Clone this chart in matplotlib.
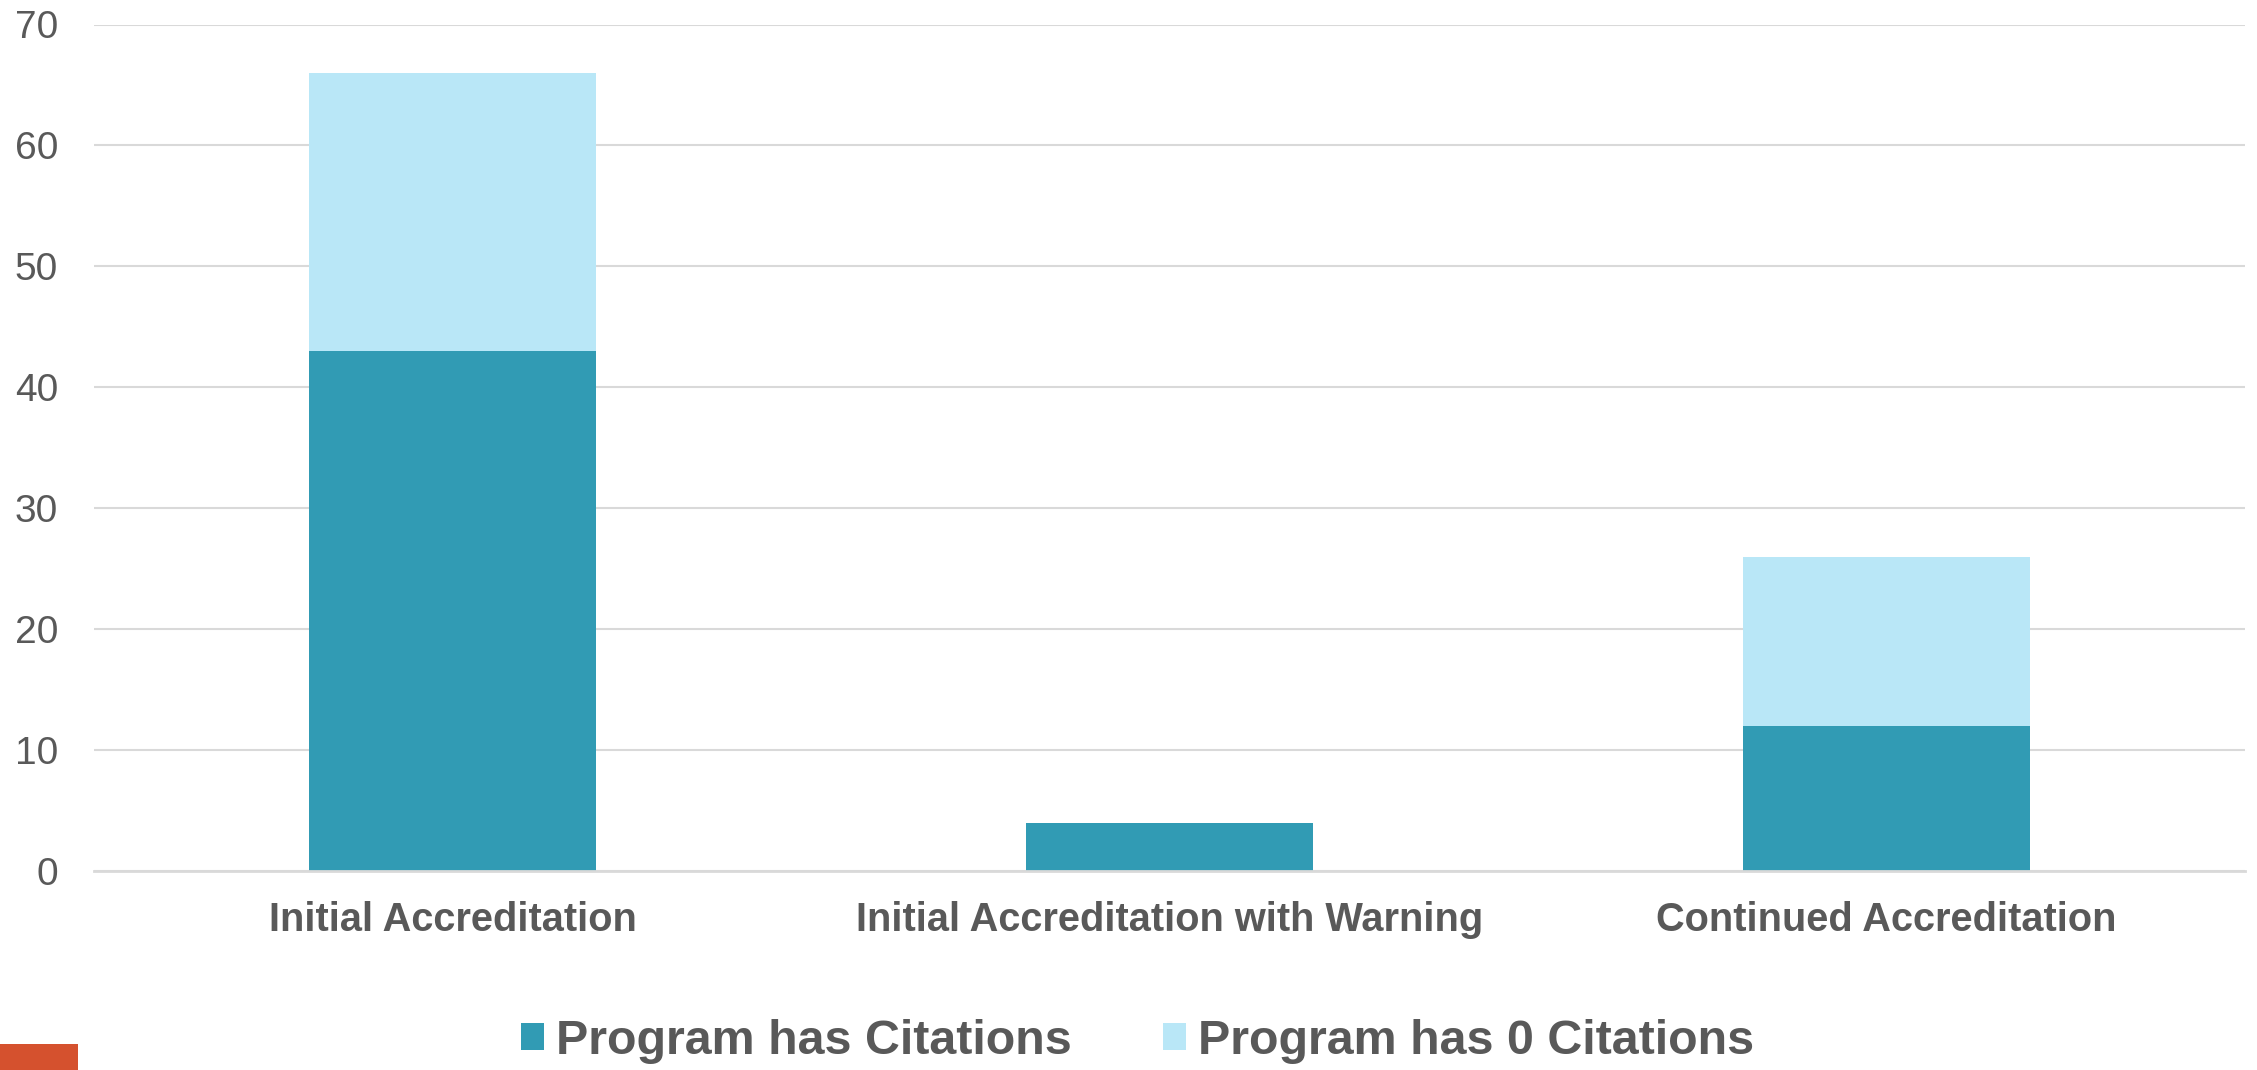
import matplotlib.pyplot as plt
from matplotlib.patches import Patch, Rectangle
import numpy as np

# dados do grafico
categorias = ["Initial Accreditation", "Initial Accreditation with Warning", "Continued Accreditation"]
com_citacoes = [43, 4, 12]
zero_citacoes = [23, 0, 14]
series = ["Program has Citations", "Program has 0 Citations"]
yticks = [0, 10, 20, 30, 40, 50, 60, 70]

cor_escura = "#319BB4"
cor_clara = "#B9E7F7"
cinza = "#595959"

plt.rcParams['font.family'] = ['Liberation Sans', 'DejaVu Sans']

fig = plt.figure(figsize=(22.57, 10.70), dpi=100)
ax = fig.add_axes([94 / 2257, 1 - 871 / 1070, (2245 - 94) / 2257, (871 - 24.5) / 1070])

x = np.arange(len(categorias))
ax.bar(x, com_citacoes, width=0.4, color=cor_escura, zorder=3)
ax.bar(x, zero_citacoes, width=0.4, bottom=com_citacoes, color=cor_clara, zorder=3)

ax.set_xlim(-0.5, len(categorias) - 0.5)
ax.set_ylim(0, 70)
ax.set_yticks(yticks)
ax.set_xticks(x)
ax.set_xticklabels(categorias, fontsize=28.6, fontweight='bold', color=cinza)
ax.tick_params(axis='y', labelsize=28, labelcolor=cinza, length=0, pad=26)
ax.tick_params(axis='x', length=0, pad=21.5)
ax.grid(axis='y', color='#D9D9D9', linewidth=1.5, zorder=0)
for s in ['top', 'right', 'left']:
    ax.spines[s].set_visible(False)
ax.spines['bottom'].set_color('#D9D9D9')
ax.spines['bottom'].set_linewidth(2)
ax.spines['bottom'].set_zorder(4)

handles = [Patch(facecolor=cor_escura), Patch(facecolor=cor_clara)]
fig.legend(handles, series, loc='center', bbox_to_anchor=(0.504, 1 - 1041 / 1070),
           ncol=2, frameon=False, prop={'size': 34.8, 'weight': 'bold'},
           labelcolor=cinza, handlelength=0.47, handleheight=0.47,
           handletextpad=0.25, columnspacing=1.9)

# retangulo laranja no canto
fig.patches.append(Rectangle((0, 0), 78 / 2257, 26 / 1070, transform=fig.transFigure,
                             facecolor='#D5512E', edgecolor='none'))

fig.savefig("out.png", dpi=100)
